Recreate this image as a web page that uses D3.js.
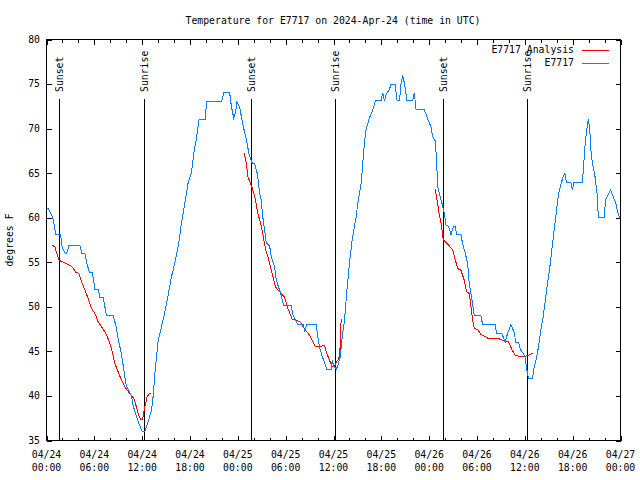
<!DOCTYPE html>
<html>
<head>
<meta charset="utf-8">
<script src="https://cdn.jsdelivr.net/npm/d3@7"></script>
<style>
html,body{margin:0;padding:0;background:#fff;}
svg{display:block;}
text{font-family:"DejaVu Sans Mono","Liberation Mono",monospace;font-size:9.8px;fill:#000;}
</style>
</head>
<body>
<svg id="chart" width="640" height="480"></svg>
<script>
// ---- data (hours since 2024-04-24 00:00 UTC) ----
const startTime = Date.UTC(2024, 3, 24, 0, 0);
const spanHours = 72;
const majorTickHours = [0, 6, 12, 18, 24, 30, 36, 42, 48, 54, 60, 66, 72];
const tickDates = ["04/24","04/24","04/24","04/24","04/25","04/25","04/25","04/25","04/26","04/26","04/26","04/26","04/27"];
const tickTimes = ["00:00","06:00","12:00","18:00","00:00","06:00","12:00","18:00","00:00","06:00","12:00","18:00","00:00"];
const yTicks = [35, 40, 45, 50, 55, 60, 65, 70, 75, 80];

const sunHours = [1.63, 12.27, 25.67, 36.23, 49.72, 60.25];
const sunLabels = ["Sunset", "Sunrise", "Sunset", "Sunrise", "Sunset", "Sunrise"];

const obsHours = [0.05,0.23,0.78,1.19,1.78,1.9,2.32,2.53,2.82,4.19,4.41,4.82,5.03,5.36,5.74,6.07,6.49,6.7,7.11,7.54,8.36,8.7,8.99,9.42,9.62,9.95,10.24,10.67,10.87,11.5,12.0,12.33,12.75,13.17,13.37,13.59,14.0,14.43,14.84,15.25,15.68,15.88,16.3,16.63,16.93,17.34,17.76,18.18,18.47,18.81,19.13,19.94,20.06,21.94,22.23,22.98,23.19,23.48,23.73,23.89,24.23,24.64,25.07,25.39,25.69,25.82,26.11,26.4,26.52,26.73,26.95,27.07,27.36,27.57,27.99,28.2,28.61,28.82,29.15,29.45,29.74,30.7,30.9,31.53,32.24,32.37,32.66,33.83,34.04,34.25,34.59,34.87,35.16,35.71,35.84,36.0,36.34,36.54,36.84,37.09,37.38,37.67,38.0,38.34,38.54,38.84,39.04,39.47,39.67,39.88,40.09,40.51,40.92,41.26,41.97,42.17,42.39,42.6,43.01,43.22,43.73,43.98,44.27,44.48,44.68,44.89,45.23,45.93,46.14,46.36,47.4,47.81,48.23,48.43,48.77,48.94,49.06,49.27,49.61,49.9,50.11,50.44,50.74,51.03,51.28,51.44,51.99,52.19,52.53,52.82,53.03,53.44,53.66,54.5,54.7,56.29,56.45,57.12,57.54,57.83,58.25,58.45,58.75,58.79,59.2,59.5,59.79,60.04,60.2,60.46,60.96,61.17,61.46,61.71,62.01,62.3,62.55,62.84,63.14,63.39,63.67,63.96,64.21,64.51,64.8,65.01,65.21,65.76,65.97,66.18,67.22,67.34,67.56,67.77,67.97,68.14,68.34,68.56,68.81,69.1,69.22,69.93,70.15,70.47,70.77,71.06,71.4,71.73,71.95];
const obsTemps = [61.1,61.0,60.0,58.1,58.1,56.9,56.0,56.0,56.9,56.9,56.0,56.0,55.0,53.9,53.9,52.0,52.0,51.0,51.0,49.0,49.0,47.9,46.4,44.6,43.4,41.4,40.7,40.0,38.9,37.1,36.0,36.0,37.1,38.4,39.9,42.5,46.2,47.8,49.4,51.3,53.4,54.1,55.8,57.4,59.4,61.6,63.9,65.0,67.2,68.9,71.0,71.0,73.0,73.0,74.0,74.0,72.5,71.2,71.9,73.0,72.4,70.4,68.8,67.2,66.4,66.1,66.1,65.1,64.4,62.7,62.0,60.5,58.6,57.2,56.8,55.6,54.5,53.0,52.1,51.3,50.1,50.1,49.1,48.0,48.0,47.2,48.0,48.0,46.6,45.5,44.4,43.8,43.0,43.0,44.0,43.4,43.0,43.4,44.4,46.6,48.5,51.7,54.9,57.5,58.6,60.1,61.6,63.9,66.1,68.4,69.9,71.2,72.1,73.1,73.1,74.0,73.1,73.8,74.4,75.0,75.0,73.1,73.1,75.1,76.0,75.1,73.1,73.1,74.0,72.1,72.1,71.1,70.2,69.1,68.6,66.3,63.5,62.8,61.6,60.5,59.2,59.0,58.1,59.0,59.0,58.1,58.1,57.1,56.0,54.9,52.6,50.4,49.0,49.0,48.0,48.0,47.0,47.0,46.0,47.0,48.0,47.6,47.0,46.0,46.0,45.1,44.8,44.4,43.2,42.0,42.0,43.2,44.2,45.5,47.4,48.9,50.6,52.6,54.5,56.4,58.6,60.7,62.6,63.7,64.6,65.0,64.0,64.0,63.1,64.0,64.0,65.4,68.2,69.9,71.1,69.9,66.9,65.8,64.6,62.4,60.0,60.0,62.0,62.6,63.1,62.4,61.7,60.3,60.0];

// analysis series; null separates segments
const anaHours = [0.73,1.06,1.35,1.6,2.1,2.6,3.03,3.36,3.66,4.07,4.41,4.82,5.23,5.66,6.07,6.49,6.91,7.33,7.74,8.16,8.58,8.99,9.42,9.83,10.46,10.96,11.29,11.58,11.8,12.05,12.33,12.62,12.87,13.05,
  18.0,
  24.77,25.07,25.27,25.57,25.82,26.11,26.52,26.95,27.27,27.49,27.77,28.2,28.61,28.82,29.24,29.86,30.28,30.83,31.24,31.83,32.16,32.66,33.0,33.41,33.75,34.16,34.87,35.16,35.5,35.84,36.13,36.34,36.66,36.84,36.96,
  42.0,
  48.77,49.06,49.27,49.49,49.61,49.77,50.31,50.94,51.28,51.57,51.99,52.4,52.69,53.03,53.24,53.53,53.66,54.07,54.5,54.91,55.54,56.79,57.41,57.95,58.38,58.79,59.29,59.92,60.46,60.88,61.05];
const anaTemps = [56.9,56.75,55.8,55.2,55.0,54.8,54.6,54.3,53.9,53.75,52.8,51.9,50.9,49.8,49.25,48.3,47.75,47.2,46.4,45.3,43.6,42.7,41.75,41.0,40.25,39.7,38.75,37.8,37.4,37.4,38.75,39.9,40.25,40.25,
  null,
  67.3,66.1,64.6,63.9,63.3,62.4,60.5,59.0,57.5,56.4,55.6,54.1,52.6,52.1,51.7,51.1,49.8,48.6,48.5,48.3,47.75,47.2,46.8,46.1,45.5,45.5,45.7,44.75,44.0,43.3,43.3,43.8,44.1,45.5,48.6,
  null,
  63.2,61.6,60.3,59.4,58.6,57.5,57.05,56.4,55.25,54.3,54.1,53.0,51.7,51.5,50.0,48.1,47.6,47.45,46.9,46.7,46.4,46.4,46.2,46.06,45.2,44.56,44.45,44.4,44.56,44.75,44.75];

const titleText = "Temperature for E7717 on 2024-Apr-24 (time in UTC)";
const yTitle = "degrees F";
const seriesNames = ["E7717 Analysis", "E7717"];
const seriesColors = ["#ff0000", "#0080ff"];

// ---- drawing ----
const svg = d3.select("#chart");
const L = 46.5, R = 620.5, T = 39.5, B = 440.5;
const hr = h => new Date(startTime + h * 3600000);

const x = d3.scaleUtc().domain([hr(0), hr(spanHours)]).range([L, R]);
const y = d3.scaleLinear().domain([35, 80]).range([B, T]);

const minorHours = d3.range(0, spanHours + 0.01, 2).filter(h => h % 6 !== 0);

function styleAxis(g) {
  g.select(".domain").remove();
  g.selectAll("line").attr("stroke", "#000").attr("shape-rendering", "crispEdges");
  g.selectAll("text").remove();
}

// bottom / top major & minor ticks (inward)
svg.append("g").attr("transform", `translate(0,${B})`)
  .call(d3.axisBottom(x).tickValues(majorTickHours.map(hr)).tickSize(-5).tickFormat(""))
  .call(styleAxis);
svg.append("g").attr("transform", `translate(0,${B})`)
  .call(d3.axisBottom(x).tickValues(minorHours.map(hr)).tickSize(-3).tickFormat(""))
  .call(styleAxis);
svg.append("g").attr("transform", `translate(0,${T})`)
  .call(d3.axisTop(x).tickValues(majorTickHours.map(hr)).tickSize(-5).tickFormat(""))
  .call(styleAxis);
svg.append("g").attr("transform", `translate(0,${T})`)
  .call(d3.axisTop(x).tickValues(minorHours.map(hr)).tickSize(-3).tickFormat(""))
  .call(styleAxis);
// left / right ticks
svg.append("g").attr("transform", `translate(${L},0)`)
  .call(d3.axisLeft(y).tickValues(yTicks).tickSize(-5).tickFormat(""))
  .call(styleAxis);
svg.append("g").attr("transform", `translate(${R},0)`)
  .call(d3.axisRight(y).tickValues(yTicks).tickSize(-5).tickFormat(""))
  .call(styleAxis);

// x labels (two lines)
const xl = svg.append("g");
majorTickHours.forEach((h, i) => {
  const t = xl.append("text").attr("text-anchor", "middle");
  t.append("tspan").attr("x", x(hr(h))).attr("y", 457.5).text(tickDates[i]);
  t.append("tspan").attr("x", x(hr(h))).attr("y", 471).text(tickTimes[i]);
});
// y labels
svg.append("g").selectAll("text").data(yTicks).join("text")
  .attr("x", 40).attr("y", d => y(d)).attr("dy", "0.35em")
  .attr("text-anchor", "end").text(d => d);

// y title
svg.append("text").attr("transform", `translate(10,240) rotate(-90)`)
  .attr("text-anchor", "middle").attr("dy", "0.35em").text(yTitle);
// title
svg.append("text").attr("x", 333).attr("y", 24).attr("text-anchor", "middle").text(titleText);

// sun lines and labels
sunHours.forEach((h, i) => {
  const sx = Math.round(x(hr(h))) + 0.5;
  svg.append("line").attr("x1", sx).attr("x2", sx).attr("y1", 99).attr("y2", B)
    .attr("stroke", "#000").attr("shape-rendering", "crispEdges");
  svg.append("text").attr("transform", `translate(${sx + 0.5},92) rotate(-90)`)
    .attr("text-anchor", "start").attr("dy", "0.35em").text(sunLabels[i]);
});

// series lines
const anaData = anaHours.map((h, i) => ({ t: hr(h), v: anaTemps[i] }));
const obsData = obsHours.map((h, i) => ({ t: hr(h), v: obsTemps[i] }));
const line = d3.line().defined(d => d.v !== null).x(d => x(d.t)).y(d => y(d.v));

svg.append("path").datum(anaData).attr("d", line)
  .attr("fill", "none").attr("stroke", seriesColors[0]).attr("stroke-width", 1)
  .attr("shape-rendering", "crispEdges");
svg.append("path").datum(obsData).attr("d", line)
  .attr("fill", "none").attr("stroke", seriesColors[1]).attr("stroke-width", 1)
  .attr("shape-rendering", "crispEdges");

// legend
const legendY = [50, 62.5];
seriesNames.forEach((n, i) => {
  svg.append("text").attr("x", 574).attr("y", legendY[i]).attr("dy", "0.35em")
    .attr("text-anchor", "end").text(n);
  svg.append("line").attr("x1", 582).attr("x2", 609).attr("y1", Math.round(legendY[i]) + 0.5).attr("y2", Math.round(legendY[i]) + 0.5)
    .attr("stroke", seriesColors[i]).attr("shape-rendering", "crispEdges");
});

// border
svg.append("rect").attr("x", L).attr("y", T).attr("width", R - L).attr("height", B - T)
  .attr("fill", "none").attr("stroke", "#000").attr("shape-rendering", "crispEdges");
</script>
</body>
</html>
